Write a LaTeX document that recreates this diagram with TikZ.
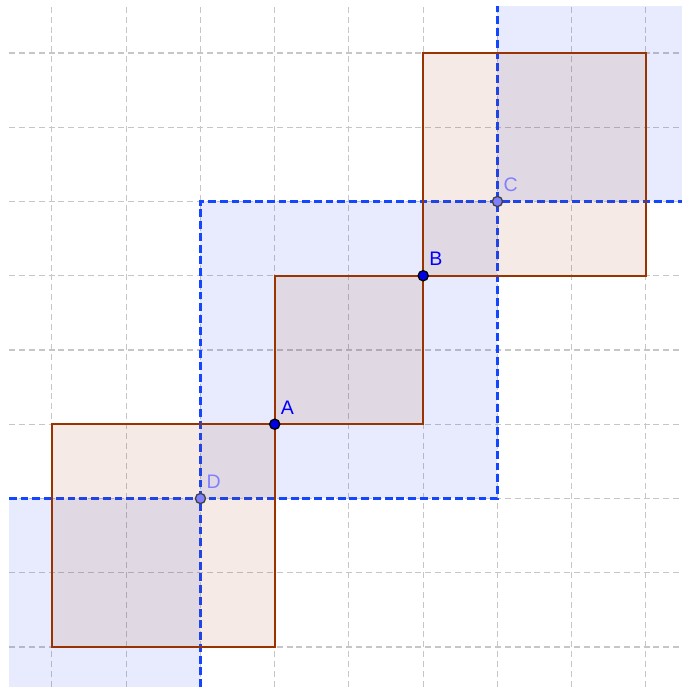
\documentclass[tikz,border=0pt]{standalone}
\usepackage{fontspec}
\setsansfont{Liberation Sans}
\definecolor{regblue}{RGB}{30,60,240}
\definecolor{bdblue}{RGB}{20,70,255}
\definecolor{sqbrown}{RGB}{153,51,0}
\definecolor{freepnt}{RGB}{0,0,230}
\definecolor{deppnt}{RGB}{128,128,255}
\begin{document}
\begin{tikzpicture}[scale = 1,
		gridline/.style={gray!45, line width=0.4pt, dash pattern=on 2.3pt off 1.5pt},
		region/.style={fill=regblue, fill opacity=0.1},
		sq/.style={draw=sqbrown, line width=0.8pt, fill=sqbrown, fill opacity=0.1},
		bound/.style={bdblue, line width=1.15pt, dash pattern=on 3pt off 1.5pt},
		lbl/.style={font=\sffamily\fontsize{7.5}{9}\selectfont, inner sep=0pt, xshift=0.6pt, yshift=2pt},
		free point/.style={circle, draw=black, fill=freepnt, line width=0.5pt, inner sep=0pt, minimum size=3.9pt},
		dep point/.style={circle, draw=black!75, fill=deppnt, line width=0.5pt, inner sep=0pt, minimum size=3.9pt}]
			\useasboundingbox (-0.7,-0.539) rectangle (8.485,8.714);
			\foreach \x in {0,...,8}{
			  \draw[gridline] (\x,-0.539) -- (\x,8.63);
			}
			\foreach \y in {0,...,8}{
			  \draw[gridline] (-0.58,\y) -- (8.485,\y);
			}
			\fill[region] (-0.58,-0.539) rectangle (2,2);
			\fill[region] (2,2) rectangle (6,6);
			\fill[region] (6,6) rectangle (8.485,8.63);
			\draw[bound] (2,-0.539) -- (2,6) -- (8.485,6);
			\draw[bound] (-0.58,2) -- (6,2) -- (6,8.63);
			\draw[sq] (0,0) rectangle (3,3);
			\draw[sq] (3,3) rectangle (5,5);
			\draw[sq] (5,5) rectangle (8,8);
			\node[free point, label={[lbl, text=blue]above right:A}] (A) at (3,3) {};
			\node[free point, label={[lbl, text=blue]above right:B}] (B) at (5,5) {};
			\node[dep point, label={[lbl, text=deppnt]above right:C}] (C) at (6,6) {};
			\node[dep point, label={[lbl, text=deppnt]above right:D}] (D) at (2,2) {};
		\end{tikzpicture}
\end{document}
